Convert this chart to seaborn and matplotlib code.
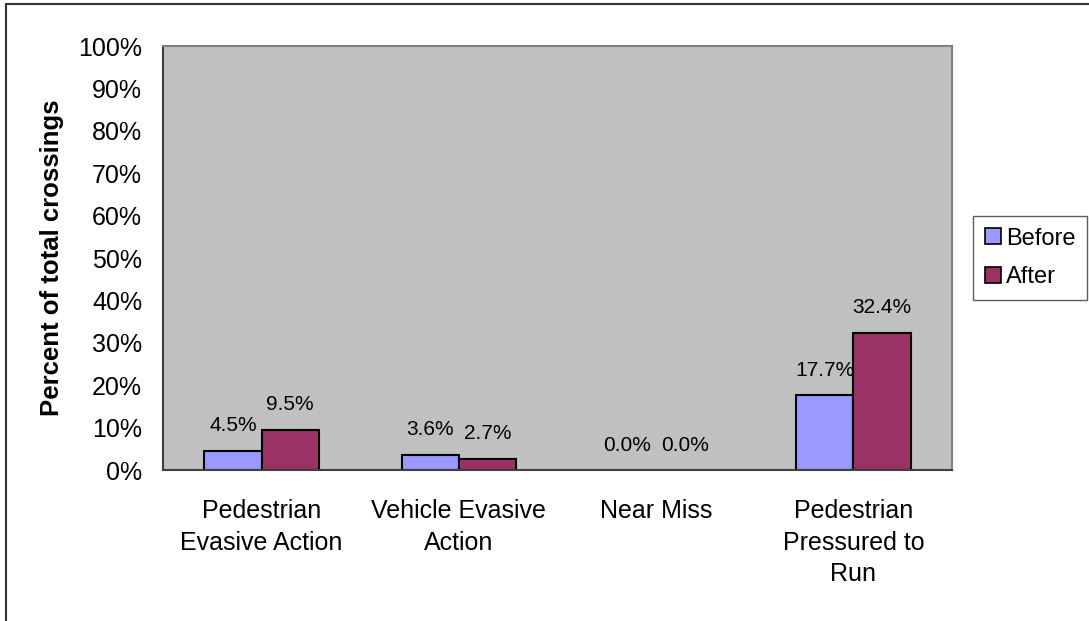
import matplotlib
matplotlib.use("Agg")
import matplotlib.pyplot as plt
import matplotlib.lines as mlines
import seaborn as sns
import pandas as pd
import numpy as np

categories = ["Pedestrian\nEvasive Action", "Vehicle Evasive\nAction", "Near Miss",
              "Pedestrian\nPressured to\nRun"]
before = [4.5, 3.6, 0.0, 17.7]
after = [9.5, 2.7, 0.0, 32.4]
series = ["Before", "After"]
colors = ["#9999FF", "#993366"]
yticks = list(range(0, 101, 10))

df = pd.DataFrame({
    "category": categories * 2,
    "value": before + after,
    "series": [series[0]] * len(categories) + [series[1]] * len(categories),
})

sns.set_theme(style="white")
plt.rcParams["font.family"] = ["Liberation Sans", "DejaVu Sans"]
plt.rcParams["text.color"] = "black"
plt.rcParams["xtick.labelcolor"] = "black"
plt.rcParams["ytick.labelcolor"] = "black"
plt.rcParams["axes.labelcolor"] = "black"

fig = plt.figure(figsize=(10.89, 6.21), dpi=100)
ax = fig.add_axes([163 / 1089, 1 - 470 / 621, (952 - 163) / 1089, (470 - 46) / 621])
ax.set_facecolor("#C0C0C0")

sns.barplot(data=df, x="category", y="value", hue="series", order=categories,
            hue_order=series, palette=colors, width=0.58, edgecolor="black",
            linewidth=1.5, saturation=1, ax=ax, legend=False)

# value labels above each bar
for container, vals in zip(ax.containers, [before, after]):
    for bar, v in zip(container, vals):
        ax.annotate(f"{v:.1f}%", (bar.get_x() + bar.get_width() / 2, bar.get_height()),
                    xytext=(0, 14), textcoords="offset points", ha="center", va="baseline",
                    fontsize=15, color="black")

ax.set_ylim(0, 100)
ax.set_xlim(-0.5, len(categories) - 0.5)
ax.set_yticks(yticks)
ax.set_yticklabels([f"{t}%" for t in yticks], fontsize=18)
ax.set_xticks(range(len(categories)))
ax.set_xticklabels(categories, fontsize=18, linespacing=1.4)
ax.set_xticks(np.arange(-0.5, len(categories), 1.0), minor=True)
ax.tick_params(axis="x", which="major", length=0, pad=21)
ax.tick_params(axis="x", which="minor", length=8, width=1.2, color="#404040", direction="out")
ax.tick_params(axis="y", length=7, width=1.2, color="#606060", direction="out", pad=8)
ax.set_xlabel("")
ax.set_ylabel("Percent of total crossings", fontsize=18.5, fontweight="bold", labelpad=10)

for side in ["left", "bottom"]:
    ax.spines[side].set_color("#404040")
    ax.spines[side].set_linewidth(1.5)
for side in ["top", "right"]:
    ax.spines[side].set_color("#808080")
    ax.spines[side].set_linewidth(1.5)

handles = [mlines.Line2D([], [], marker="s", linestyle="none", markersize=11.5,
                         markerfacecolor=c, markeredgecolor="black", markeredgewidth=1.2)
           for c in colors]
leg = fig.legend(handles, series, loc="center left",
                 bbox_to_anchor=(973 / 1089, 1 - 258 / 621), fontsize=17,
                 frameon=True, fancybox=False, handlelength=0.7, handletextpad=0.2,
                 borderpad=0.5, labelspacing=0.7, borderaxespad=0)
leg.get_frame().set_edgecolor("#333333")
leg.get_frame().set_linewidth(1.0)

# outer chart border (left and top edges visible)
fig.add_artist(mlines.Line2D([5.5 / 1089, 5.5 / 1089], [0, 1 - 4 / 621], color="#333333", lw=1.5))
fig.add_artist(mlines.Line2D([5.5 / 1089, 1], [1 - 4 / 621, 1 - 4 / 621], color="#333333", lw=1.5))

fig.savefig("out.png", dpi=100, facecolor="white")
